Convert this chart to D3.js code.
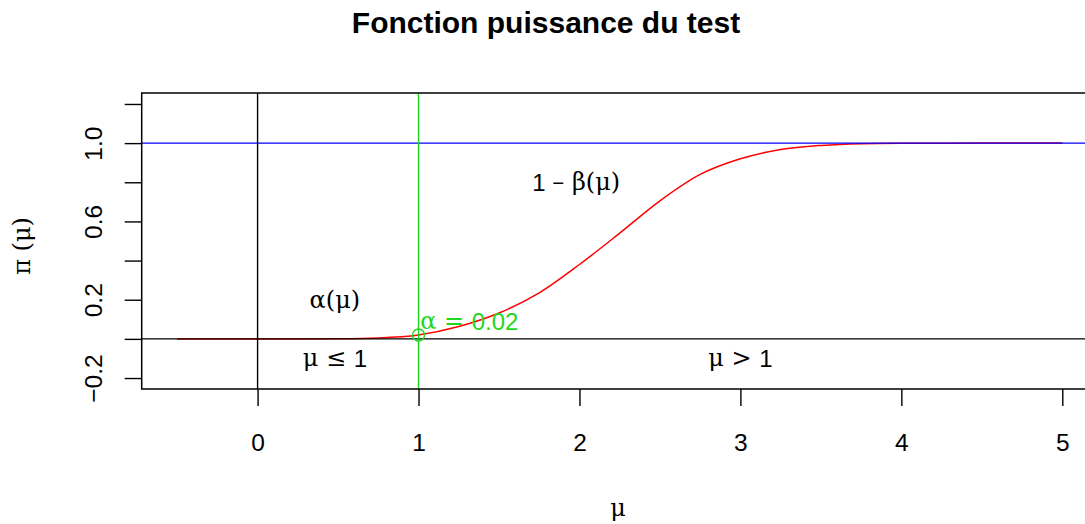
<!DOCTYPE html>
<html>
<head>
<meta charset="utf-8">
<script src="https://cdn.jsdelivr.net/npm/d3@7"></script>
<style>
  body { margin: 0; background: #fff; }
  text { font-family: "Liberation Sans", Arial, sans-serif; }
</style>
</head>
<body>
<script>
// power curve
const mu = [-0.5, 0, 0.25, 0.5, 0.75, 1, 1.25, 1.5, 1.75, 2, 2.25, 2.5, 2.75, 3, 3.25, 3.5, 3.75, 4, 4.5, 5];
const power = [0, 0, 0, 0.001, 0.005, 0.02, 0.063, 0.132, 0.235, 0.38, 0.54, 0.705, 0.84, 0.92, 0.967, 0.988, 0.997, 0.999, 1, 1];
const xTicks = [0, 1, 2, 3, 4, 5];
const yTicks = [-0.2, 0, 0.2, 0.4, 0.6, 0.8, 1.0, 1.2];
const yLabels = [-0.2, 0.2, 0.6, 1.0];
const alpha = 0.02, mu0 = 1;

const W = 1085, H = 524;
const mLeft = 141.7, mRight = 1097.7, mTop = 93, mBottom = 389;
const green = "#1ed81e";
const serif = "DejaVu Serif, serif";

const svg = d3.select("body").append("svg")
  .attr("width", W).attr("height", H);

const x = d3.scaleLinear().domain([-0.72, 5.22]).range([mLeft, mRight]);
const y = d3.scaleLinear().domain([-0.256, 1.256]).range([mBottom, mTop]);

// clip for plot area
svg.append("clipPath").attr("id", "plot")
  .append("rect").attr("x", mLeft).attr("y", mTop)
  .attr("width", mRight - mLeft).attr("height", mBottom - mTop);

const g = svg.append("g").attr("clip-path", "url(#plot)");

// curve first, ablines on top
g.append("path")
  .datum(mu.map((m, i) => [m, power[i]]))
  .attr("fill", "none")
  .attr("stroke", "#ff0000")
  .attr("stroke-width", 1.5)
  .attr("d", d3.line().x(d => x(d[0])).y(d => y(d[1])).curve(d3.curveMonotoneX));

g.append("line").attr("x1", mLeft).attr("x2", mRight).attr("y1", y(0)).attr("y2", y(0))
  .attr("stroke", "#000").attr("stroke-width", 1.4);
g.append("line").attr("x1", mLeft).attr("x2", mRight).attr("y1", y(1)).attr("y2", y(1))
  .attr("stroke", "#0000ff").attr("stroke-width", 1.4);
g.append("line").attr("x1", x(0)).attr("x2", x(0)).attr("y1", mTop).attr("y2", mBottom)
  .attr("stroke", "#000").attr("stroke-width", 1.4);
g.append("line").attr("x1", x(mu0)).attr("x2", x(mu0)).attr("y1", mTop).attr("y2", mBottom)
  .attr("stroke", green).attr("stroke-width", 1.4);

g.append("circle").attr("cx", x(mu0)).attr("cy", y(alpha)).attr("r", 6)
  .attr("fill", "none").attr("stroke", green).attr("stroke-width", 1.4);

// box
svg.append("rect").attr("x", mLeft).attr("y", mTop)
  .attr("width", mRight - mLeft).attr("height", mBottom - mTop)
  .attr("fill", "none").attr("stroke", "#000").attr("stroke-width", 1.5);

// axes
const xAxis = svg.append("g").attr("transform", `translate(0,${mBottom})`)
  .call(d3.axisBottom(x).tickValues(xTicks).tickSize(17).tickPadding(28).tickFormat(d3.format("d")));
const yAxis = svg.append("g").attr("transform", `translate(${mLeft},0)`)
  .call(d3.axisLeft(y).tickValues(yTicks).tickSize(17)
    .tickFormat(d => yLabels.some(v => Math.abs(v - d) < 1e-9) ? d3.format(".1f")(d) : ""));

[xAxis, yAxis].forEach(a => {
  a.select(".domain").remove();
  a.selectAll(".tick line").attr("stroke", "#000").attr("stroke-width", 1.4);
  a.selectAll("text").attr("fill", "#000").style("font-size", "24.5px");
});
yAxis.selectAll(".tick text")
  .attr("x", 0).attr("dy", 0)
  .attr("text-anchor", "middle")
  .attr("transform", "translate(-48,0) rotate(-90)")
  .attr("dominant-baseline", "central");

// title and axis labels
svg.append("text").attr("x", 546).attr("y", 33).attr("text-anchor", "middle")
  .style("font-size", "30px").style("font-weight", "bold").text("Fonction puissance du test");

svg.append("text").attr("x", 618).attr("y", 516).attr("text-anchor", "middle")
  .style("font-family", serif).style("font-size", "24px").text("μ");

svg.append("text").attr("transform", "translate(30,246) rotate(-90)").attr("text-anchor", "middle")
  .style("font-family", serif).style("font-size", "24px").text("π (μ)");

// annotations
function label(xv, yv, parts, color, anchor) {
  const t = svg.append("text").attr("x", x(xv)).attr("y", y(yv))
    .attr("text-anchor", anchor || "middle").attr("dominant-baseline", "central")
    .attr("fill", color || "#000").style("font-size", "24px");
  parts.forEach(p => t.append("tspan")
    .style("font-family", p[1] ? serif : "Liberation Sans, Arial, sans-serif")
    .text(p[0]));
}
label(0.48, 0.2, [["α(μ)", 1]]);
label(0.48, -0.1, [["μ ≤ ", 1], ["1", 0]]);
label(3.0, -0.1, [["μ > ", 1], ["1", 0]]);
label(1.98, 0.8, [["1 ", 0], ["– β(μ)", 1]]);
label(1.01, 0.09, [["α = ", 1], ["0.02", 0]], green, "start");
</script>
</body>
</html>
